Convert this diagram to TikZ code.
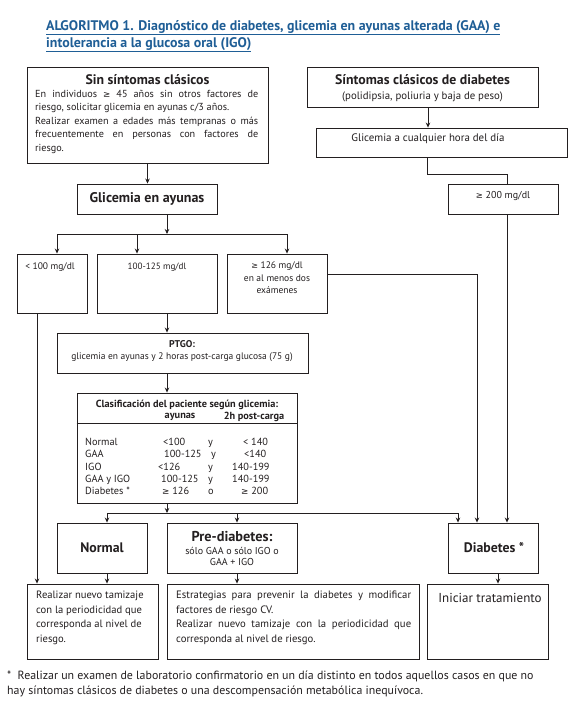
\documentclass[tikz,border=0pt]{standalone}
\usepackage{fontspec}
\setmainfont{PT Sans}
\newfontfamily\symf{DejaVu Sans}[Scale=0.85]
\newcommand\gq{{\symf ≥}}
\usetikzlibrary{arrows.meta}
\definecolor{ink}{RGB}{35,31,32}
\definecolor{ttl}{RGB}{31,94,150}
\newcommand\bx[5]{\node[box, minimum width={(#4)-(#2)}, minimum height={(#5)-(#3)}] (#1) at ({((#2)+(#4))/2},{((#3)+(#5))/2}) {};}
\begin{document}
\begin{tikzpicture}[x=1pt,y=-1pt,
  box/.style={draw=ink, line width=0.9pt, inner sep=0pt},
  arr/.style={draw=ink, line width=0.7pt, -{Stealth[length=5pt,width=4.5pt]}},
  ln/.style={draw=ink, line width=0.7pt},
  lbl/.style={inner sep=0pt, text=ink},
  big/.style={lbl, font=\bfseries\fontsize{13.8}{15}\selectfont},
  body/.style={lbl, font=\fontsize{10.2}{13.5}\selectfont},
  small/.style={lbl, font=\fontsize{9.5}{12.5}\selectfont},
  tab/.style={lbl, anchor=base west, font=\fontsize{10.3}{12}\selectfont}]
\useasboundingbox (0,0) rectangle (580,707);
\fill[white] (0,0) rectangle (580,707);
% title
\node[lbl, anchor=base west, text=ttl, font=\bfseries\fontsize{13.9}{15}\selectfont] (title1) at (46,30) {\underline{ALGORITMO 1. Diagnóstico de diabetes, glicemia en ayunas alterada (GAA) e}};
\node[lbl, anchor=base west, text=ttl, font=\bfseries\fontsize{13.9}{15}\selectfont] (title2) at (46,47) {\underline{intolerancia a la glucosa oral (IGO)}};
% boxes
\bx{sin}{27}{67}{268}{163}
\bx{sint}{307}{67}{538}{107}
\bx{hora}{316}{128}{567}{157}
\bx{ga}{77}{184}{217}{214}
\bx{g200}{448}{184}{558}{214}
\bx{lt100}{17}{254}{87}{313}
\bx{g100}{97}{254}{217}{313}
\bx{g126}{227}{254}{327}{313}
\bx{ptgo}{57}{333}{308}{373}
\bx{clas}{77}{393}{297}{503}
\bx{normal}{57}{523}{147}{573}
\bx{pre}{167}{523}{297}{573}
\bx{diab}{448}{523}{538}{573}
\bx{rl}{27}{584}{158}{659}
\bx{rm}{167}{584}{419}{659}
\bx{rr}{427}{584}{548}{659}
\draw[ln] (clas.west |- 0,423) -- (clas.east |- 0,423);
% texts
\node[big] (sinT) at (147.5,80) {Sin síntomas clásicos};
\node[body, anchor=north west, align=left] (sinB) at (35,90) {\makebox[223pt][s]{En individuos \gq\ 45 años sin otros factores de}\\riesgo, solicitar glicemia en ayunas c/3 años.\\\makebox[223pt][s]{Realizar examen a edades más tempranas o más}\\\makebox[223pt][s]{frecuentemente en personas con factores de}\\riesgo.};
\node[big] (sintT) at (422.5,80) {Síntomas clásicos de diabetes};
\node[small, font=\fontsize{10.8}{12}\selectfont] (sintB) at (422.5,97) {(polidipsia, poliuria y baja de peso)};
\node[small, font=\fontsize{10.9}{12}\selectfont] (horaT) at (428,139) {Glicemia a cualquier hora del día};
\node[small, font=\fontsize{10}{12}\selectfont] (g200T) at (503,196) {\gq\ 200 mg/dl};
\node[big, font=\bfseries\fontsize{14}{15}\selectfont] (gaT) at (147,199) {Glicemia en ayunas};
\node[small] (lt100T) at (50,267) {< 100 mg/dl};
\node[small, font=\fontsize{9.1}{12}\selectfont] (g100T) at (157,267) {100-125 mg/dl};
\node[small, anchor=north, align=center] (g126T) at (277,262) {\gq\ 126 mg/dl\\en al menos dos\\exámenes};
\node[small, font=\bfseries\fontsize{9.8}{12}\selectfont] (ptgoT) at (182,344) {PTGO:};
\node[small] (ptgoB) at (182,357) {glicemia en ayunas y 2 horas post-carga glucosa (75 g)};
\node[small, font=\bfseries\fontsize{10.3}{12}\selectfont] (clasT) at (187,405) {Clasificación del paciente según glicemia:};
\node[small, font=\bfseries\fontsize{10.3}{12}\selectfont] (clasA) at (180,417) {ayunas};
\node[small, font=\bfseries\fontsize{10.3}{12}\selectfont] (clasB) at (254,417) {2h post-carga};
% table rows
\node[tab] (r1a) at (85,445) {Normal};
\node[tab] (r1b) at (163,445) {<100};
\node[tab] (r1c) at (208,445) {y};
\node[tab] (r1d) at (243,445) {< 140};
\node[tab] (r2a) at (85,457) {GAA};
\node[tab] (r2b) at (164,457) {100-125};
\node[tab] (r2c) at (211,457) {y};
\node[tab] (r2d) at (244,457) {<140};
\node[tab] (r3a) at (85,470) {IGO};
\node[tab] (r3b) at (158,470) {<126};
\node[tab] (r3c) at (208,470) {y};
\node[tab] (r3d) at (232,470) {140-199};
\node[tab] (r4a) at (85,482) {GAA y IGO};
\node[tab] (r4b) at (161,482) {100-125};
\node[tab] (r4c) at (208,482) {y};
\node[tab] (r4d) at (232,482) {140-199};
\node[tab] (r5a) at (85,494) {Diabetes *};
\node[tab] (r5b) at (162,494) {\gq\ 126};
\node[tab] (r5c) at (208,494) {o};
\node[tab] (r5d) at (241,494) {\gq\ 200};
% lower boxes
\node[big] (normalT) at (102,548) {Normal};
\node[big, font=\bfseries\fontsize{14.3}{15}\selectfont] (preT) at (232,537) {Pre-diabetes:};
\node[small, align=center, font=\fontsize{10}{11}\selectfont, anchor=north] (preB) at (232,547) {sólo GAA o sólo IGO o\\GAA + IGO};
\node[big] (diabT) at (494,548) {Diabetes *};
\node[body, anchor=north west, align=left, font=\fontsize{10.6}{14.5}\selectfont] (rlT) at (36,591) {Realizar nuevo tamizaje\\con la periodicidad que\\corresponda al nivel de\\riesgo.};
\node[body, anchor=north west, align=left, font=\fontsize{10.7}{14.5}\selectfont] (rmT) at (176,591) {\makebox[235pt][s]{Estrategias para prevenir la diabetes y modificar}\\factores de riesgo CV.\\\makebox[235pt][s]{Realizar nuevo tamizaje con la periodicidad que}\\corresponda al nivel de riesgo.};
\node[lbl, font=\fontsize{13}{14}\selectfont] (rrT) at (490,598) {Iniciar tratamiento};
\node[lbl, anchor=north west, align=left, font=\fontsize{11.9}{15}\selectfont] (foot) at (7,671) {*\ \ Realizar un examen de laboratorio confirmatorio en un día distinto en todos aquellos casos en que no\\hay síntomas clásicos de diabetes o una descompensación metabólica inequívoca.};
% coordinates
\coordinate (x428) at (428,0);
\coordinate (x507) at (507,0);
\coordinate (x477) at (477,0);
\coordinate (x498) at (498,0);
\coordinate (x37) at (37,0);
\coordinate (x167) at (167,0);
\coordinate (y274) at (0,274);
\coordinate (k1) at (427,174);
\coordinate (bar1) at (167,234);
\coordinate (b1l) at (57,234);
\coordinate (b1m) at (137,234);
\coordinate (b1r) at (287,234);
\coordinate (bar2) at (167,513);
\coordinate (b2l) at (107,513);
\coordinate (b2m) at (237,513);
\coordinate (b2r) at (458,513);
% connectors
\draw[arr] (sin.south) -- (sin.south |- ga.north);
\draw[arr] (sint.south -| x428) -- (hora.north -| x428);
\draw[ln] (hora.south -| k1) -- (k1) -| (g200.north -| x507);
\draw[arr] (g200.south -| x507) -- (diab.north -| x507);
\draw[arr] (ga.south -| bar1) -- (bar1);
\draw[ln] (b1l) -- (b1r);
\draw[arr] (b1l) -- (lt100.north -| b1l);
\draw[arr] (b1m) -- (g100.north -| b1m);
\draw[arr] (b1r) -- (g126.north -| b1r);
\draw[arr] (g126.east |- y274) -| (diab.north -| x477);
\draw[arr] (lt100.south -| x37) -- (rl.north -| x37);
\draw[arr] (g100.south -| x167) -- (ptgo.north -| x167);
\draw[arr] (ptgo.south -| x167) -- (clas.north -| x167);
\draw[arr] (clas.south -| bar2) -- (bar2);
\draw[ln] (b2l) -- (b2r);
\draw[arr] (b2l) -- (normal.north -| b2l);
\draw[arr] (b2m) -- (pre.north -| b2m);
\draw[arr] (b2r) -- (diab.north -| b2r);
\draw[arr] (normal.south -| b2l) -- (rl.north -| b2l);
\draw[arr] (pre.south -| b2m) -- (rm.north -| b2m);
\draw[arr] (diab.south -| x498) -- (rr.north -| x498);
\end{tikzpicture}
\end{document}
